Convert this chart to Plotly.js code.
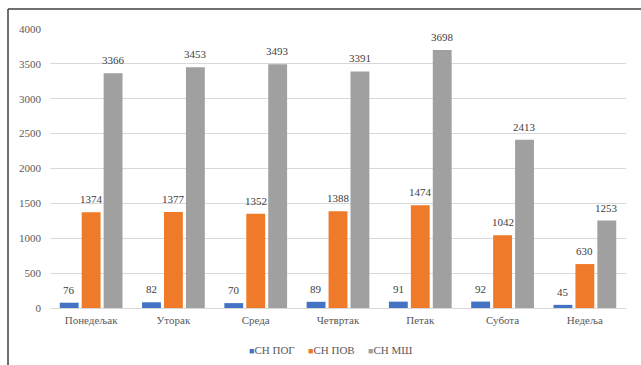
<!DOCTYPE html>
<html><head><meta charset="utf-8">
<script src="https://cdn.plot.ly/plotly-3.0.1.min.js"></script>
<style>html,body{margin:0;padding:0;background:#fff}#c{width:641px;height:365px}</style>
</head><body><div id="c"></div>
<script>
const days = ["Понедељак","Уторак","Среда","Четвртак","Петак","Субота","Недеља"];
const snPog = [76, 82, 70, 89, 91, 92, 45];
const snPov = [1374, 1377, 1352, 1388, 1474, 1042, 630];
const snMsh = [3366, 3453, 3493, 3391, 3698, 2413, 1253];
const seriesNames = ["СН ПОГ","СН ПОВ","СН МШ"];
const colors = ["#4472C4","#EF7B2A","#A0A0A0"];
const tickVals = [0,500,1000,1500,2000,2500,3000,3500,4000];

const serif = "Liberation Serif, Times New Roman, serif";
const font = {family:serif, size:11, color:"#595959"};
const series = [snPog, snPov, snMsh];
const traces = series.map((v,i)=>({
  type:"bar", x:days, y:v, name:seriesNames[i],
  marker:{color:colors[i]}, showlegend:false
}));

const W = 641, ml = 50, mr = 15;
const plotW = W - ml - mr;
const catW = plotW / days.length;
const slot = catW * 0.8 / 3;
const annotations = [];
series.forEach((v,i)=>{
  v.forEach((val,j)=>{
    annotations.push({x:days[j], y:val, xref:"x", yref:"y", text:String(val), showarrow:false,
      xshift:(i-1)*slot, yshift:13, yanchor:"middle",
      font:{family:serif,size:11,color:"#404040"}});
  });
});
// legend (built from series names and colours)
const legendLeft = [247, 306, 366];
seriesNames.forEach((n,i)=>{
  annotations.push({xref:"paper", yref:"paper", x:(legendLeft[i]-ml)/plotW, y:-0.1505,
    xanchor:"left", yanchor:"middle", showarrow:false,
    text:'<span style="color:'+colors[i]+';font-size:9px">■</span>'+n,
    font:{family:serif,size:11,color:"#595959"}});
});

const layout = {
  width:W, height:365,
  margin:{l:ml,r:mr,t:29,b:57},
  paper_bgcolor:"#fff", plot_bgcolor:"#fff",
  font:font,
  barmode:"group", bargap:0.2, bargroupgap:0.14,
  showlegend:false,
  xaxis:{showgrid:false, zeroline:false, showline:false, ticks:"", tickfont:font, automargin:false, ticklabelstandoff:4},
  yaxis:{range:[0,4000], tickvals:tickVals, showgrid:true, gridcolor:"#D9D9D9", gridwidth:1,
    zeroline:true, zerolinecolor:"#D9D9D9", zerolinewidth:1, showline:false, ticks:"",
    tickfont:font, ticklabelstandoff:8, automargin:false},
  annotations:annotations,
  shapes:[
    {type:"line", xref:"paper", yref:"paper", x0:-0.0729, x1:1.03, y0:1.0717, y1:1.0717, line:{color:"#404040",width:1.5}},
    {type:"line", xref:"paper", yref:"paper", x0:-0.0729, x1:-0.0729, y0:1.0717, y1:-0.21, line:{color:"#404040",width:1.5}}
  ]
};
Plotly.newPlot("c", traces, layout, {displayModeBar:false, staticPlot:true});
</script></body></html>
